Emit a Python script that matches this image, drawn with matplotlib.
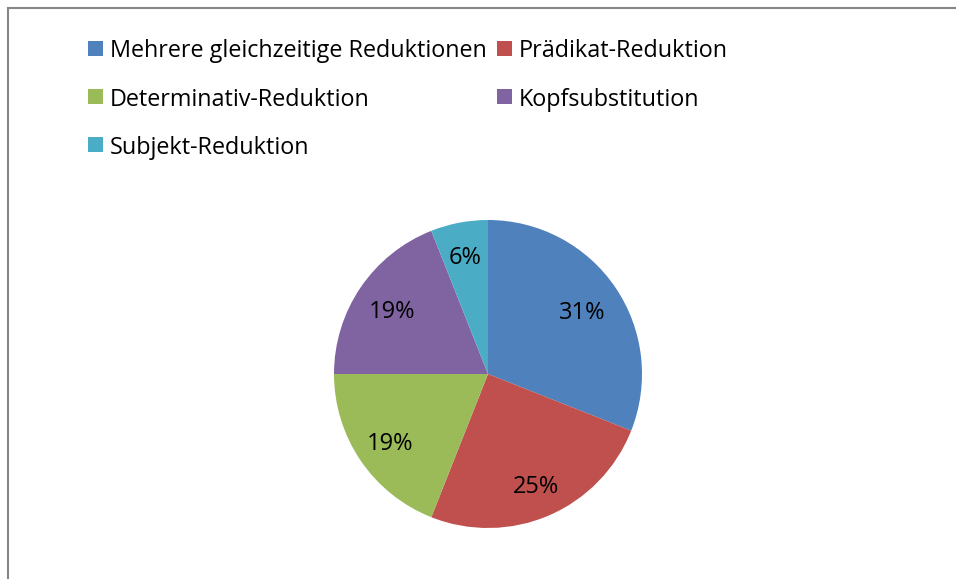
import matplotlib.pyplot as plt
from matplotlib.lines import Line2D
from matplotlib.patches import Rectangle
import numpy as np

plt.rcParams['font.family'] = ['Open Sans', 'DejaVu Sans']

categories = ['Mehrere gleichzeitige Reduktionen', 'Prädikat-Reduktion',
              'Determinativ-Reduktion', 'Kopfsubstitution', 'Subjekt-Reduktion']
shares = [31, 25, 19, 19, 6]
colors = ['#4F81BD', '#C0504D', '#9BBB59', '#8064A2', '#4BACC6']
label_dist = [0.74, 0.78, 0.77, 0.75, 0.79]

W, H = 956, 579
fig = plt.figure(figsize=(W / 100, H / 100), dpi=100)

# grey chart frame (only left and top edges visible)
fig.add_artist(Line2D([8 / W, 8 / W], [0, 1 - 8 / H], color='#868686', lw=1.5,
                      transform=fig.transFigure))
fig.add_artist(Line2D([8 / W, 1], [1 - 8 / H, 1 - 8 / H], color='#868686', lw=1.5,
                      transform=fig.transFigure))

# pie
cx, cy, r = 488, 374, 154
ax = fig.add_axes([(cx - r) / W, (H - cy - r) / H, 2 * r / W, 2 * r / H])
wedges, _ = ax.pie(shares, colors=colors, startangle=90, counterclock=False,
                   radius=1, wedgeprops=dict(linewidth=0))
ax.set_xlim(-1, 1)
ax.set_ylim(-1, 1)
ax.set_aspect('equal')
ax.axis('off')

for w, v, d in zip(wedges, shares, label_dist):
    ang = np.deg2rad((w.theta1 + w.theta2) / 2)
    ax.text(d * np.cos(ang), d * np.sin(ang) - 0.02, f'{v}%', ha='center', va='center',
            fontsize=17, color='black')

# legend, two columns like the original
col_x = [88, 497]
row_y = [48, 96.5, 144.5]
sq = 15
for i, (w, lab) in enumerate(zip(wedges, categories)):
    x = col_x[i % 2]
    y = row_y[i // 2]
    fig.add_artist(Rectangle((x / W, (H - y - sq / 2) / H), sq / W, sq / H,
                             facecolor=w.get_facecolor(), edgecolor='none',
                             transform=fig.transFigure))
    fig.text((x + 22) / W, (H - y) / H, lab, ha='left', va='center_baseline',
             fontsize=16.8, color='black')

fig.savefig('out.png', dpi=100, facecolor='white')
